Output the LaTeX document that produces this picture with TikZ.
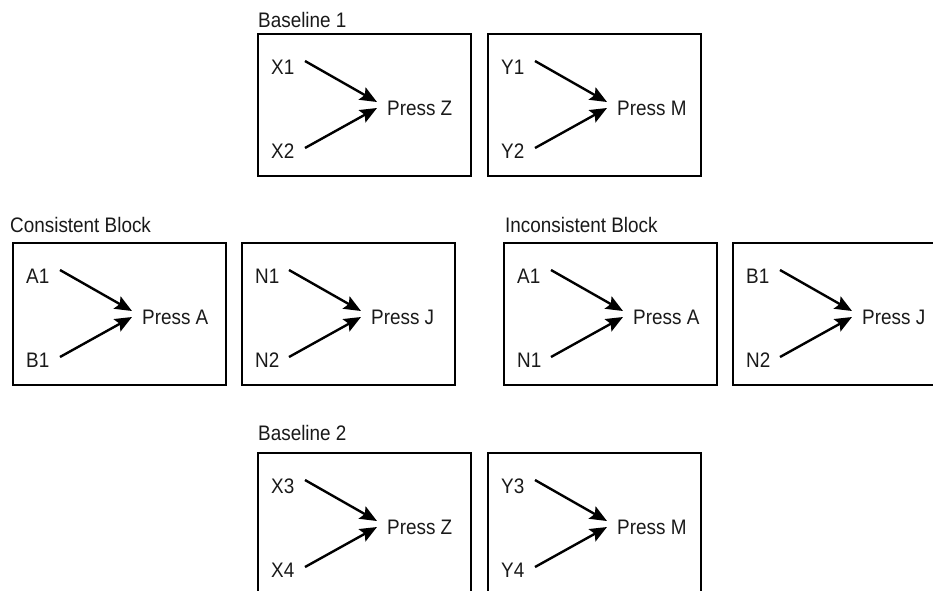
\documentclass[tikz,border=0pt]{standalone}
\usepackage{fontspec}
\setmainfont[FakeStretch=0.9]{Liberation Sans}
\usetikzlibrary{arrows.meta,calc}
\tikzset{
  panelbox/.style={draw, line width=2.3pt, rectangle, inner sep=0pt, minimum width=213pt, minimum height=142pt, anchor=north west},
  lbl/.style={inner sep=0pt, anchor=base west, text=black!90, font=\fontsize{21}{24}\selectfont},
  grouptitle/.style={inner sep=0pt, anchor=base west, text=black!90, font=\fontsize{21}{24}\selectfont},
  arr/.style={line width=2.4pt, -{Stealth[length=17pt,width=14pt,inset=3pt]}}
}
\newcommand{\mypanel}[6]{%
  \node[panelbox] (#1box) at (#2,#3) {};
  \node[lbl] (#1t) at (#2+14,#3+41) {#4};
  \node[lbl] (#1b) at (#2+14,#3+125) {#5};
  \node[lbl] (#1p) at (#2+130,#3+82) {#6};
  \draw[arr] ($(#1box.north west)+(48,28)$) -- ($(#1box.north west)+(120,69)$);
  \draw[arr] ($(#1box.north west)+(48,115)$) -- ($(#1box.north west)+(120,75)$);
}
\begin{document}
\begin{tikzpicture}[x=1pt,y=-1pt]
\useasboundingbox (0,0) rectangle (933,590);
\clip (0,0) rectangle (933,590);
\node[grouptitle] (t1) at (258,27) {Baseline 1};
\mypanel{ba}{257}{33}{X1}{X2}{Press Z}
\mypanel{bb}{487}{33}{Y1}{Y2}{Press M}
\node[grouptitle] (t2) at (10,232) {Consistent Block};
\mypanel{ca}{12}{242}{A1}{B1}{Press A}
\mypanel{cb}{241}{242}{N1}{N2}{Press J}
\node[grouptitle] (t3) at (505,232) {Inconsistent Block};
\mypanel{ia}{503}{242}{A1}{N1}{Press A}
\mypanel{ib}{732}{242}{B1}{N2}{Press J}
\node[grouptitle] (t4) at (258,440) {Baseline 2};
\mypanel{da}{257}{452}{X3}{X4}{Press Z}
\mypanel{db}{487}{452}{Y3}{Y4}{Press M}
\end{tikzpicture}
\end{document}
